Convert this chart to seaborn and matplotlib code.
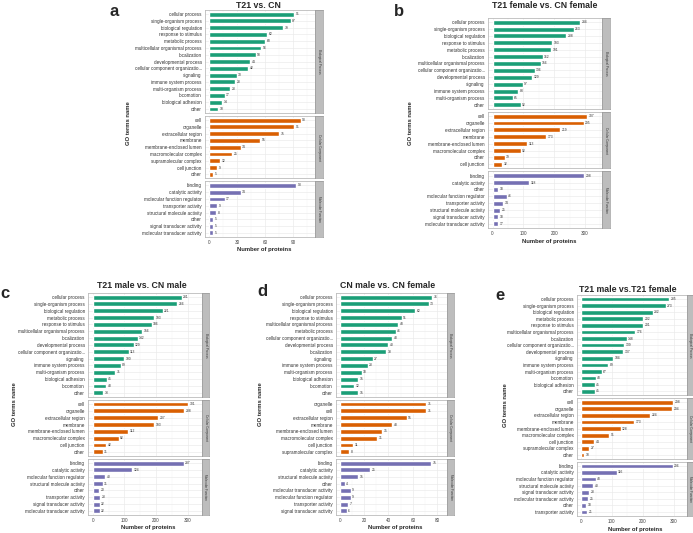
import numpy as np
import pandas as pd
import seaborn as sns
import matplotlib.pyplot as plt
from matplotlib.ticker import MultipleLocator

# ---------------- data ----------------
# a: T21 vs. CN
a_bp_terms = ["cellular process", "single-organism process", "biological regulation", "response to stimulus",
              "metabolic process", "multicellular organismal process", "localization", "developmental process",
              "cellular component organizatio...", "signaling", "immune system process", "multi-organism process",
              "locomotion", "biological adhesion", "other"]
a_bp_counts = [91, 87, 79, 62, 60, 56, 50, 44, 42, 30, 28, 23, 17, 14, 10]
a_cc_terms = ["cell", "organelle", "extracellular region", "membrane", "membrane-enclosed lumen",
              "macromolecular complex", "supramolecular complex", "cell junction", "other"]
a_cc_counts = [98, 91, 75, 55, 34, 25, 12, 9, 5]
a_mf_terms = ["binding", "catalytic activity", "molecular function regulator", "transporter activity",
              "structural molecule activity", "other", "signal transducer activity", "molecular transducer activity"]
a_mf_counts = [93, 34, 17, 9, 8, 5, 5, 5]

# b: T21 female vs. CN female
b_bp_terms = ["cellular process", "single-organism process", "biological regulation", "response to stimulus",
              "metabolic process", "localization", "multicellular organismal process",
              "cellular component organizatio...", "developmental process", "signaling", "immune system process",
              "multi-organism process", "other"]
b_bp_counts = [284, 263, 238, 193, 191, 162, 156, 136, 129, 97, 83, 65, 92]
b_cc_terms = ["cell", "organelle", "extracellular region", "membrane", "membrane-enclosed lumen",
              "macromolecular complex", "other", "cell junction"]
b_cc_counts = [307, 295, 219, 173, 113, 92, 39, 32]
b_mf_terms = ["binding", "catalytic activity", "other", "molecular function regulator", "transporter activity",
              "structural molecule activity", "signal transducer activity", "molecular transducer activity"]
b_mf_counts = [298, 118, 18, 46, 34, 25, 18, 17]

# c: T21 male vs. CN male
c_bp_terms = ["cellular process", "single-organism process", "biological regulation", "metabolic process",
              "response to stimulus", "multicellular organismal process", "localization", "developmental process",
              "cellular component organizatio...", "signaling", "immune system process", "multi-organism process",
              "biological adhesion", "locomotion", "other"]
c_bp_counts = [281, 266, 221, 193, 186, 156, 142, 129, 113, 100, 89, 71, 45, 43, 33]
c_cc_terms = ["cell", "organelle", "extracellular region", "membrane", "membrane-enclosed lumen",
              "macromolecular complex", "cell junction", "other"]
c_cc_counts = [301, 288, 207, 193, 112, 82, 42, 31]
c_mf_terms = ["binding", "catalytic activity", "molecular function regulator", "structural molecule activity",
              "other", "transporter activity", "signal transducer activity", "molecular transducer activity"]
c_mf_counts = [287, 124, 40, 31, 20, 23, 22, 22]

# d: CN male vs. CN female
d_bp_terms = ["cellular process", "single-organism process", "biological regulation", "response to stimulus",
              "multicellular organismal process", "metabolic process", "cellular component organizatio...",
              "developmental process", "localization", "signaling", "immune system process",
              "multi-organism process", "biological adhesion", "locomotion", "other"]
d_bp_counts = [76, 73, 62, 51, 48, 46, 43, 40, 38, 27, 23, 18, 15, 12, 15]
d_cc_terms = ["organelle", "cell", "extracellular region", "membrane", "membrane-enclosed lumen",
              "macromolecular complex", "cell junction", "supramolecular complex"]
d_cc_counts = [71, 71, 55, 43, 35, 31, 11, 8]
d_mf_terms = ["binding", "catalytic activity", "structural molecule activity", "other",
              "molecular transducer activity", "molecular function regulator", "transporter activity",
              "signal transducer activity"]
d_mf_counts = [75, 25, 15, 4, 9, 9, 7, 6]

# e: T21 male vs.T21 female
e_bp_terms = ["cellular process", "single-organism process", "biological regulation", "metabolic process",
              "response to stimulus", "multicellular organismal process", "localization",
              "cellular component organizatio...", "developmental process", "signaling", "immune system process",
              "multi-organism process", "locomotion", "biological adhesion", "other"]
e_bp_counts = [285, 273, 232, 202, 201, 176, 148, 139, 137, 104, 89, 67, 48, 45, 45]
e_cc_terms = ["cell", "organelle", "extracellular region", "membrane", "membrane-enclosed lumen",
              "macromolecular complex", "cell junction", "supramolecular complex", "other"]
e_cc_counts = [298, 294, 224, 173, 128, 91, 44, 27, 10]
e_mf_terms = ["binding", "catalytic activity", "molecular function regulator", "structural molecule activity",
              "signal transducer activity", "molecular transducer activity", "other", "transporter activity"]
e_mf_counts = [296, 116, 48, 40, 28, 25, 18, 21]

colors = ["#1B9E77", "#D95F02", "#7570B3"]
strip_names = ["Biological Process", "Cellular Component", "Molecular Function"]

sns.set_style("white")
plt.rcParams["font.family"] = ["Liberation Sans", "DejaVu Sans"]

W, H = 693, 533
fig = plt.figure(figsize=(W / 100, H / 100), dpi=100)


def box(l, t, r, b):
    return [l / W, 1 - b / H, (r - l) / W, (b - t) / H]


def draw_panel(facets, xlim, step, left, top, right, strip_r, bottom,
               title, title_xy, letter, letter_xy, ylab_x, xlab_y):
    gap = 3
    sizes = [len(t) + 0.2 for t, _ in facets]
    avail = bottom - top - gap * (len(facets) - 1)
    y = top
    for i, (terms, counts) in enumerate(facets):
        h = avail * sizes[i] / sum(sizes)
        ax = fig.add_axes(box(left, y, right, y + h))
        df = pd.DataFrame({"term": terms, "count": counts})
        sns.barplot(data=df, x="count", y="term", order=terms, color=colors[i],
                    saturation=1, width=0.72, ax=ax)
        ax.bar_label(ax.containers[0], fmt="%d", padding=1, fontsize=2.4, color="#333333")
        ax.set_xlim(*xlim)
        ax.set_ylim(len(terms) - 0.4, -0.6)
        ax.xaxis.set_major_locator(MultipleLocator(step))
        ax.xaxis.set_minor_locator(MultipleLocator(step / 2))
        ax.grid(True, which="major", color="#EBEBEB", lw=0.5)
        ax.grid(True, which="minor", axis="x", color="#F2F2F2", lw=0.3)
        ax.set_axisbelow(True)
        for s in ax.spines.values():
            s.set_color("#BBBBBB")
            s.set_linewidth(0.6)
        ax.set_xlabel("")
        ax.set_ylabel("")
        ax.tick_params(axis="y", labelsize=3.3, length=1.5, width=0.4, pad=0.8,
                       colors="#777777", labelcolor="#333333")
        if i == len(facets) - 1:
            ax.tick_params(axis="x", labelsize=3.3, length=1.5, width=0.4, pad=1,
                           colors="#777777", labelcolor="#444444")
        else:
            ax.tick_params(axis="x", labelbottom=False, length=0)
        ax.tick_params(which="minor", length=0)
        # facet strip
        sax = fig.add_axes(box(right, y, strip_r, y + h))
        sax.set_facecolor("#BDBDBD")
        sax.set_xticks([])
        sax.set_yticks([])
        for s in sax.spines.values():
            s.set_color("#999999")
            s.set_linewidth(0.5)
        sax.text(0.5, 0.5, strip_names[i], rotation=-90, ha="center", va="center",
                 fontsize=2.2, color="#333333", transform=sax.transAxes)
        y += h + gap
    cx = (left + strip_r) / 2
    fig.text(title_xy[0] / W, 1 - title_xy[1] / H, title, ha="center", va="center",
             fontsize=6.3, fontweight="bold")
    fig.text(letter_xy[0] / W, 1 - letter_xy[1] / H, letter, ha="center", va="center",
             fontsize=12, fontweight="bold")
    fig.text(ylab_x / W, 1 - ((top + bottom) / 2) / H, "GO terms name", rotation=90,
             ha="center", va="center", fontsize=4.2, fontweight="bold")
    fig.text(cx / W, 1 - xlab_y / H, "Number of proteins", ha="center", va="center",
             fontsize=4.2, fontweight="bold")


draw_panel([(a_bp_terms, a_bp_counts), (a_cc_terms, a_cc_counts), (a_mf_terms, a_mf_counts)],
           (-4, 113), 30, 205, 10, 315, 323, 237,
           "T21 vs. CN", (258, 5), "a", (114, 11), 128, 249)
draw_panel([(b_bp_terms, b_bp_counts), (b_cc_terms, b_cc_counts), (b_mf_terms, b_mf_counts)],
           (-15, 355), 100, 488, 18, 602, 610, 228,
           "T21 female vs. CN female", (545, 6), "b", (399, 11), 410, 241)
draw_panel([(c_bp_terms, c_bp_counts), (c_cc_terms, c_cc_counts), (c_mf_terms, c_mf_counts)],
           (-15, 345), 100, 88, 293, 202, 209, 515,
           "T21 male vs. CN male", (142, 285), "c", (5, 293), 14, 528)
draw_panel([(d_bp_terms, d_bp_counts), (d_cc_terms, d_cc_counts), (d_mf_terms, d_mf_counts)],
           (-3, 88), 20, 336, 293, 447, 454, 515,
           "CN male vs. CN female", (388, 285), "d", (262, 291), 260, 528)
draw_panel([(e_bp_terms, e_bp_counts), (e_cc_terms, e_cc_counts), (e_mf_terms, e_mf_counts)],
           (-12, 342), 100, 577, 295, 687, 693, 516,
           "T21 male vs.T21 female", (628, 289), "e", (500, 296), 505, 529)

fig.savefig("out.png", dpi=100)
